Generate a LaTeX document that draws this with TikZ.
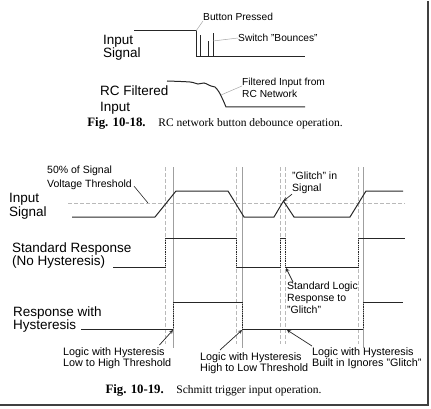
\documentclass[tikz,border=0pt]{standalone}
\usepackage{fontspec}
\setmainfont{Liberation Sans}
\newfontfamily\capfont{Liberation Serif}
\usetikzlibrary{arrows}

\begin{document}
\begin{tikzpicture}[x=1pt,y=-1pt,
	wave/.style={black!85, line width=1pt},
	stepedge/.style={black!85, line width=0.8pt, densely dotted},
	guide/.style={gray!55, line width=0.6pt, dash pattern=on 4pt off 2pt},
	hyst/.style={gray!75, line width=0.6pt},
	leader/.style={black!85, line width=0.7pt, -stealth},
	note/.style={gray!70, line width=0.5pt},
	biglabel/.style={inner sep=0pt, anchor=north west, align=left, font=\fontsize{13.5}{13}\selectfont},
	smalllabel/.style={inner sep=0pt, anchor=north west, align=left, font=\fontsize{10.8}{11}\selectfont},
	toplabel/.style={inner sep=0pt, anchor=west, font=\fontsize{10.2}{12}\selectfont},
	figcap/.style={inner sep=0pt, font=\capfont\fontsize{11.5}{13}\selectfont}]
	\useasboundingbox (0,0) rectangle (431,409);
	% Frame
	\draw[black!75, line width=2.5pt] (428,1) -- (428,405) -- (0,405);

	% Fig. 10-18: switch bounce
	\node[biglabel] (insig) at (103,35) {Input\\Signal};
	\node[biglabel, font=\fontsize{13.5}{16}\selectfont] (rcin) at (100,86) {RC Filtered\\Input};
	\draw[wave] (134,31) -- (196,31) -- (196,57) -- (305,57);
	\foreach \x/\y in {200/35, 208/41, 213/33}
		\draw[wave] (\x,57) -- (\x,\y);
	\coordinate (press) at (196,31);
	\coordinate (bounce) at (213,41);
	\node[toplabel] (pressed) at (203,17) {Button Pressed};
	\node[toplabel] (bounces) at (238,38) {Switch "Bounces"};
	\draw[note] (press) -- (pressed.south west);
	\draw[note] (bounce) -- (bounces.west);
	% RC filtered input
	\draw[wave] plot[smooth, tension=0.5] coordinates {(167,81) (190,82) (198,84) (204,83) (211,86) (215,87) (219,92) (223,100) (226,107)} -- (305,107);
	\coordinate (rcslope) at (221,95);
	\node[toplabel, anchor=north west, align=left] (rcnote) at (242,78) {Filtered Input from\\RC Network};
	\draw[note] (rcslope) -- ([yshift=2pt]rcnote.west);
	\node[figcap] (cap1) at (215,123) {{\bfseries\fontsize{12.8}{13}\selectfont Fig. 10-18.}\hspace{1.1em}RC network button debounce operation.};

	% Fig. 10-19: Schmitt trigger
	\node[biglabel, font=\fontsize{13.5}{14}\selectfont] (insig2) at (9,193) {Input\\Signal};
	\node[biglabel] (stdlab) at (12,243) {Standard Response\\(No Hysteresis)};
	\node[biglabel] (hyslab) at (13,307) {Response with\\Hysteresis};
	% Threshold and guides
	\draw[guide] (68,203) -- (405,203);
	\foreach \x in {165.5,236.5,280.5,285.5,358.5}
		\draw[guide] (\x,167) -- (\x,344);
	\foreach \x in {173,242,363}
		\draw[hyst] (\x,167) -- (\x,348);
	% Input signal
	\draw[wave] (72,217) -- (155,217) -- (176,191) -- (228,191) -- (244,217) -- (274,217)
		-- (283.5,201) -- (294,217) -- (350,217) -- (366,191) -- (403,191);
	% Standard response
	\draw[wave] (113,267) -- (165.5,267) (165.5,238) -- (236.5,238) (236.5,267) -- (280.5,267)
		(280.5,238) -- (285.5,238) (285.5,267) -- (358.5,267) (358.5,238) -- (405,238);
	\foreach \x in {165.5,236.5,280.5,285.5,358.5}
		\draw[stepedge] (\x,238) -- (\x,267);
	% Response with hysteresis
	\draw[wave] (81,329) -- (173,329) (173,302) -- (242,302) (242,329) -- (363,329) (363,302) -- (403,302);
	\foreach \x in {173,242,363}
		\draw[stepedge] (\x,302) -- (\x,329);

	% Notes
	\coordinate (halfpt) at (148,203);
	\coordinate (glitchpk) at (283.5,201);
	\coordinate (stdglitch) at (286,268);
	\coordinate (lhpt) at (173,330);
	\coordinate (hlpt) at (242,330);
	\coordinate (ignpt) at (287,330);
	\node[smalllabel, font=\fontsize{10.5}{14}\selectfont] (halfnote) at (47,166) {50\% of Signal\\Voltage Threshold};
	\node[smalllabel, font=\fontsize{10.5}{12}\selectfont] (glitchnote) at (292,172) {"Glitch" in\\Signal};
	\node[smalllabel, font=\fontsize{10.5}{12}\selectfont] (stdnote) at (287,282) {Standard Logic\\Response to\\"Glitch"};
	\node[smalllabel] (lhnote) at (63,347) {Logic with Hysteresis\\Low to High Threshold};
	\node[smalllabel] (hlnote) at (200,352) {Logic with Hysteresis\\High to Low Threshold};
	\node[smalllabel] (ignnote) at (312,347) {Logic with Hysteresis\\Built in Ignores "Glitch"};
	\draw[black!85, line width=0.6pt] ([xshift=2pt,yshift=4pt]halfnote.south east) -- (halfpt);
	\draw[leader] (glitchnote.south west) -- (glitchpk);
	\draw[leader] ([xshift=6pt]stdnote.north west) -- (stdglitch);
	\draw[leader] ([xshift=-12pt,yshift=2pt]lhnote.north east) -- (lhpt);
	\draw[leader] ([xshift=20pt,yshift=2pt]hlnote.north west) -- (hlpt);
	\draw[leader] ([yshift=1pt]ignnote.north west) -- (ignpt);
	\node[figcap] (cap2) at (213.5,390) {{\bfseries\fontsize{12.8}{13}\selectfont Fig. 10-19.}\hspace{1.1em}Schmitt trigger input operation.};
\end{tikzpicture}
\end{document}
